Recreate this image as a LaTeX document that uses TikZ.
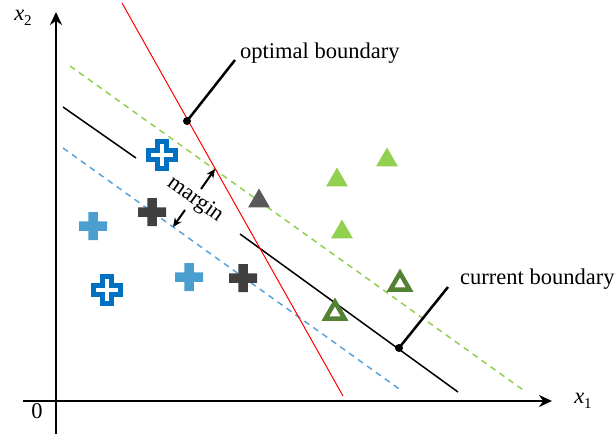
\documentclass[tikz,border=0pt]{standalone}
\usepackage{fontspec}
\setmainfont{Liberation Serif}
\usetikzlibrary{arrows.meta,shapes.geometric}
\definecolor{plusblue}{HTML}{0070C0}
\definecolor{pluslight}{HTML}{4A9FD0}
\definecolor{plusdark}{HTML}{404040}
\definecolor{trigray}{HTML}{595959}
\definecolor{trilight}{HTML}{92D050}
\definecolor{tridark}{HTML}{548235}
\definecolor{dashblue}{HTML}{5AA3DA}
\newcommand{\axname}[1]{\textit{x}\raisebox{-0.25em}{\fontsize{15}{18}\selectfont #1}}

\begin{document}
\begin{tikzpicture}[x = 1pt, y = -1pt,
    lbl/.style = {font = \fontsize{22.5}{27}\selectfont, inner sep = 0pt},
    solidplus/.style = {minimum size = 30pt, inner sep = 0pt,
        path picture = {\fill [#1, shift = {(path picture bounding box.center)}]
            (-4.75pt, -14pt) rectangle (4.75pt, 14pt)
            (-14pt, -4.75pt) rectangle (14pt, 4.75pt);}},
    outplus/.style = {minimum size = 36pt, inner sep = 0pt,
        path picture = {\filldraw [draw = plusblue, fill = white, line width = 4.5pt,
            shift = {(path picture bounding box.center)}]
            (-4.5pt, -13.5pt) -- (4.5pt, -13.5pt) -- (4.5pt, -4.5pt) -- (13.5pt, -4.5pt)
            -- (13.5pt, 4.5pt) -- (4.5pt, 4.5pt) -- (4.5pt, 13.5pt) -- (-4.5pt, 13.5pt)
            -- (-4.5pt, 4.5pt) -- (-13.5pt, 4.5pt) -- (-13.5pt, -4.5pt) -- (-4.5pt, -4.5pt)
            -- cycle;}},
    filltri/.style = {regular polygon, regular polygon sides = 3, minimum size = 25pt,
        inner sep = 0pt, fill = #1},
    outtri/.style = {regular polygon, regular polygon sides = 3, minimum size = 22pt,
        inner sep = 0pt, draw = tridark, line width = 4.5pt},
    dot/.style = {circle, fill = black, minimum size = 8pt, inner sep = 0pt},
    axis/.style = {line width = 2.5pt, -{Stealth[length = 13pt, width = 12pt]}},
    leader/.style = {line width = 2.5pt},
    marginarrow/.style = {line width = 2pt, -{Stealth[length = 9pt, width = 8pt]}},
    dashline/.style = {line width = 1.5pt, dash pattern = on 6pt off 5pt}]

        \useasboundingbox (0, 0) rectangle (616, 437);

        % Axes
        \coordinate (xstart) at (23, 401);
        \coordinate (xend) at (552, 401);
        \coordinate (ystart) at (56, 434);
        \coordinate (yend) at (56, 12);
        \draw [axis] (xstart) -- (xend);
        \draw [axis] (ystart) -- (yend);
        \node [lbl] (xlabel) at (583, 401) {\axname{1}};
        \node [lbl] (ylabel) at (23, 18) {\axname{2}};
        \node [lbl] (origin) at (37, 411) {0};

        % Lines
        \coordinate (gtop) at (70, 66);
        \coordinate (gbot) at (526, 392);
        \coordinate (btop) at (63, 148);
        \coordinate (bbot) at (402, 391);
        \coordinate (ktop) at (63, 107);
        \coordinate (kgapa) at (136, 158);
        \coordinate (kgapb) at (240, 234);
        \coordinate (kbot) at (458, 392);
        \coordinate (rtop) at (122, 3);
        \coordinate (rbot) at (343, 396);
        \draw [dashline, trilight] (gtop) -- (gbot);
        \draw [dashline, dashblue] (btop) -- (bbot);
        \draw [line width = 1.5pt] (ktop) -- (kgapa);
        \draw [line width = 1.5pt] (kgapb) -- (kbot);
        \draw [red, line width = 1pt] (rtop) -- (rbot);

        % Pluses
        \node [outplus] (p1) at (162, 155) {};
        \node [outplus] (p2) at (107, 290) {};
        \node [solidplus = pluslight] (p3) at (93, 226) {};
        \node [solidplus = pluslight] (p4) at (189, 277) {};
        \node [solidplus = plusdark] (p5) at (152, 212) {};
        \node [solidplus = plusdark] (p6) at (243, 278) {};

        % Triangles
        \node [filltri = trigray] (t1) at (259, 201) {};
        \node [filltri = trilight] (t2) at (387, 160) {};
        \node [filltri = trilight] (t3) at (337, 180) {};
        \node [filltri = trilight] (t4) at (342, 232) {};
        \node [outtri] (t5) at (400, 284) {};
        \node [outtri] (t6) at (335, 313) {};

        % Margin
        \node [lbl, rotate = -35.6] (margin) at (195, 200) {margin};
        \coordinate (mupa) at (201, 189);
        \coordinate (mupb) at (215, 169);
        \coordinate (mdowna) at (185, 210);
        \coordinate (mdownb) at (173, 227);
        \draw [marginarrow] (mupa) -- (mupb);
        \draw [marginarrow] (mdowna) -- (mdownb);

        % Boundaries
        \node [dot] (optdot) at (187, 121) {};
        \node [dot] (curdot) at (399, 348) {};
        \node [lbl, anchor = west] (optlabel) at (240, 53) {optimal boundary};
        \node [lbl, anchor = west] (curlabel) at (460, 279) {current boundary};
        \coordinate (optend) at (235, 60);
        \coordinate (curend) at (448, 287);
        \draw [leader] (optdot.center) -- (optend);
        \draw [leader] (curdot.center) -- (curend);

    \end{tikzpicture}
\end{document}
